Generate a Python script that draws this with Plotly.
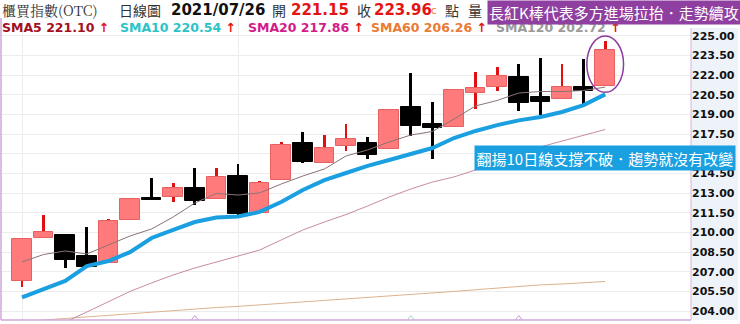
import plotly.graph_objects as go

# ---------------- data ----------------
idx = list(range(28))
opens = [206.30, 209.58, 209.80, 208.23, 207.70, 210.95, 212.65, 212.73, 213.42, 212.56,
         214.34, 211.51, 214.00, 216.81, 215.33, 216.60, 216.85, 216.35, 219.60, 218.25,
         218.08, 220.63, 221.08, 221.90, 220.37, 220.17, 221.13, 221.15]
closes = [209.50, 210.04, 207.90, 207.39, 210.88, 212.53, 212.45, 213.37, 212.40, 214.21,
          211.41, 213.80, 216.68, 215.38, 216.43, 217.11, 215.92, 219.35, 218.13, 217.98,
          220.88, 221.05, 221.97, 219.86, 219.99, 221.08, 220.82, 223.96]
highs = [209.50, 211.36, 209.80, 210.44, 211.03, 212.53, 214.15, 213.76, 214.90, 214.90,
         215.21, 213.93, 216.89, 217.69, 217.44, 218.26, 217.31, 219.43, 222.20, 219.94,
         220.93, 222.23, 222.61, 222.84, 223.30, 222.86, 223.24, 224.64]
lows = [205.84, 209.58, 207.29, 207.30, 207.70, 210.95, 212.45, 212.35, 212.10, 212.56,
        211.09, 211.51, 214.00, 215.28, 215.28, 216.24, 215.59, 216.35, 217.37, 215.59,
        218.08, 219.43, 220.80, 219.30, 218.97, 220.17, 219.81, 221.15]
sma5 = [207.75, 208.32, 208.59, 208.36, 209.05, 209.73, 210.27, 211.18, 212.25, 212.98,
        212.86, 213.02, 213.70, 214.31, 214.85, 215.84, 216.30, 216.91, 217.44, 217.71,
        218.66, 219.66, 220.08, 220.65, 220.76, 220.76, 220.84, 221.10]
sma10 = [205.04, 205.69, 206.30, 207.44, 207.82, 208.50, 209.58, 210.20, 210.80, 211.15,
         211.22, 211.57, 212.33, 213.24, 214.00, 214.54, 215.08, 215.53, 215.99, 216.45,
         217.21, 217.75, 218.20, 218.56, 218.82, 219.20, 219.73, 220.54]
sma20 = [None, 202.5, 203.17, 203.93, 204.69, 205.50, 206.15, 206.76, 207.29, 207.75,
         208.21, 208.66, 209.43, 210.19, 210.80, 211.37, 212.02, 212.71, 213.32, 213.85,
         214.24, 214.77, 215.31, 215.99, 216.53, 216.98, 217.44, 217.86]
sma60 = [203.20, 203.32, 203.44, 203.55, 203.67, 203.82, 203.93, 204.05, 204.16, 204.27,
         204.36, 204.47, 204.58, 204.69, 204.81, 204.92, 205.01, 205.13, 205.24, 205.36,
         205.50, 205.63, 205.76, 205.89, 206.00, 206.07, 206.16, 206.26]
signal_idx = [8, 18, 23]
signal_colors = ["#c9a0d6", "#9fd6d0", "#c9a0d6"]
ytick_vals = [204.0 + 1.5 * k for k in range(15)]
ytick_text = ["%.2f" % v for v in ytick_vals]

# ---------------- styling ----------------
UP_FILL = "#ff7b7b"
UP_EDGE = "#e86060"
UP_WICK = "#e01010"
DN = "#000000"

W, H = 740, 324
ML, MR, MT, MB = 1, 49, 18, 4
PW, PH = W - ML - MR, H - MT - MB


def px(x):
    return (x - ML) / PW


def py(y):
    return (H - MB - y) / PH


y0 = 203.32
y1 = y0 + PH / 13.1
x0 = -21.0 / 21.6
x1 = x0 + PW / 21.6

fig = go.Figure()

up = [c >= o for o, c in zip(opens, closes)]
wick_col = [UP_WICK if u else DN for u in up]
fig.add_trace(go.Bar(x=idx, y=[h - l for h, l in zip(highs, lows)], base=lows,
                     width=0.13, marker=dict(color=wick_col, line=dict(width=0)),
                     hoverinfo="skip", showlegend=False))
body_fill = [UP_FILL if u else DN for u in up]
body_edge = [UP_EDGE if u else DN for u in up]
fig.add_trace(go.Bar(x=idx, y=[abs(c - o) for o, c in zip(opens, closes)],
                     base=[min(o, c) for o, c in zip(opens, closes)],
                     width=0.9, marker=dict(color=body_fill, line=dict(color=body_edge, width=1)),
                     showlegend=False))

fig.add_trace(go.Scatter(x=idx, y=sma60, mode="lines", line=dict(color="#dcb38f", width=1),
                         showlegend=False))
fig.add_trace(go.Scatter(x=idx, y=sma20, mode="lines", line=dict(color="#c98aa6", width=1),
                         showlegend=False))
fig.add_trace(go.Scatter(x=idx, y=sma5, mode="lines", line=dict(color="#8a7373", width=1),
                         showlegend=False))
fig.add_trace(go.Scatter(x=idx, y=sma10, mode="lines", line=dict(color="#1a9fe0", width=4),
                         showlegend=False))
# small signal markers on the bottom edge
fig.add_trace(go.Scatter(x=signal_idx, y=[y0] * len(signal_idx), mode="markers",
                         marker=dict(symbol="triangle-up-open", size=9, color=signal_colors,
                                     line=dict(width=1, color=signal_colors)),
                         cliponaxis=True, showlegend=False, hoverinfo="skip"))

shapes = [
    dict(type="rect", xref="paper", yref="paper", x0=1, x1=1 + (MR - 2) / PW,
         y0=0, y1=py(28), fillcolor="#eef3fa", line=dict(width=0), layer="below"),
    dict(type="line", xref="paper", yref="paper", x0=0, x1=0, y0=0, y1=1,
         line=dict(color="#cfa6d8", width=1.5)),
    dict(type="line", xref="paper", yref="paper", x0=0, x1=1, y0=0, y1=0,
         line=dict(color="#cfa6d8", width=1.5)),
    dict(type="line", xref="paper", yref="paper", x0=1, x1=1, y0=0, y1=py(28),
         line=dict(color="#d6b4dc", width=1)),
    dict(type="circle", xref="x", yref="y", x0=idx[-1] - 0.85, x1=idx[-1] + 0.85,
         y0=opens[-1] - 0.45, y1=highs[-1] + 0.36, line=dict(color="#8e3a9e", width=1.5)),
]

CJK = "Noto Sans CJK TC"
NUM = "DejaVu Sans"
ARROW = "<span style='color:#e41414'>↑</span>"
ann = []


def txt(x, y, s, color="#222", size=14, family=CJK, bold=False, **kw):
    ann.append(dict(xref="paper", yref="paper", x=px(x), y=py(y), text=("<b>%s</b>" % s if bold else s),
                    showarrow=False, xanchor="left", yanchor="middle",
                    font=dict(color=color, size=size, family=family), **kw))


# row 1
txt(0, 10, "櫃買指數(OTC)", size=14, family="Noto Serif CJK TC, " + CJK, color="#333")
txt(117, 10, "日線圖", size=14, color="#333")
txt(169, 10, "2021/07/26", size=15, family=NUM, bold=True, color="#111")
txt(270, 10, "開", size=14, color="#333")
txt(289, 10, "221.15", size=15, family=NUM, bold=True, color="#e41414")
txt(355, 10, "收", size=14, color="#333")
txt(372, 10, "223.96", size=15, family=NUM, bold=True, color="#e41414")
txt(429, 11, "c", size=10, family=NUM, color="#f08030")
txt(443, 10, "點", size=14, color="#333")
txt(466, 10, "量", size=14, color="#333")
# row 2
txt(0, 28, "SMA5 221.10 " + ARROW, size=12.5, family=NUM, bold=True, color="#a3101e")
txt(118, 28, "SMA10 220.54 " + ARROW, size=12.5, family=NUM, bold=True, color="#2cc3c8")
txt(246, 28, "SMA20 217.86 " + ARROW, size=12.5, family=NUM, bold=True, color="#d21c8a")
txt(369, 28, "SMA60 206.26 " + ARROW, size=12.5, family=NUM, bold=True, color="#ea7a34")
txt(494, 28, "SMA120 202.72 " + ARROW, size=12.5, family=NUM, bold=True, color="#9a9a9a")
# callouts
ann.append(dict(xref="paper", yref="paper", x=px(487), y=py(12.5), xanchor="left", yanchor="middle",
                text="長紅K棒代表多方進場拉抬．走勢續攻", showarrow=False,
                font=dict(color="white", size=15, family=CJK), bgcolor="#8e3f9f",
                borderpad=1))
ann.append(dict(xref="paper", yref="paper", x=px(474), y=py(157.5), xanchor="left", yanchor="middle",
                text="翻揚10日線支撐不破．趨勢就沒有改變", showarrow=False,
                font=dict(color="white", size=15, family=CJK), bgcolor="#1a9fe0",
                borderpad=1.5))

fig.update_layout(
    width=W, height=H, margin=dict(l=ML, r=MR, t=MT, b=MB),
    paper_bgcolor="white", plot_bgcolor="white",
    barmode="overlay", bargap=0, showlegend=False,
    shapes=shapes, annotations=ann,
    xaxis=dict(range=[x0, x1], tickvals=[0, 10], showticklabels=False, ticks="",
               showgrid=True, gridcolor="#ececec", gridwidth=1, zeroline=False, showline=False),
    yaxis=dict(range=[y0, y1], side="right", tickvals=ytick_vals, ticktext=ytick_text,
               showgrid=True, gridcolor="#ececec", gridwidth=1, zeroline=False, ticks="",
               tickfont=dict(family=NUM, size=11, color="#111", weight="bold"),
               showline=False),
)

fig.write_html("out.html")
